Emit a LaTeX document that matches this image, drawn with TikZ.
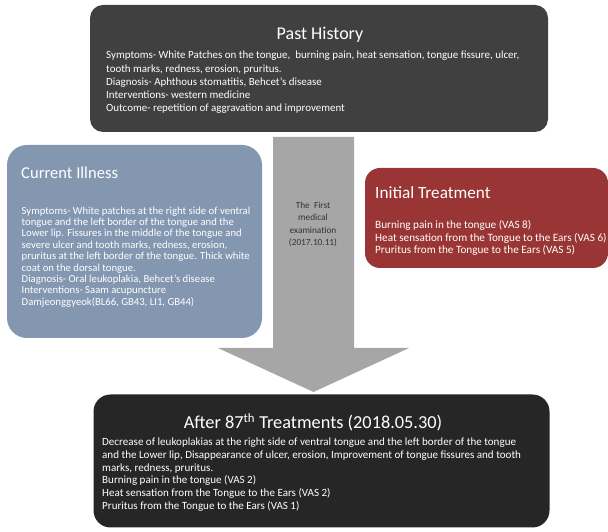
\documentclass[tikz,border=0pt]{standalone}
\usepackage{fontspec}
\setmainfont{Carlito}
\usetikzlibrary{positioning}
\definecolor{pastgray}{HTML}{404040}
\definecolor{illblue}{HTML}{8497B0}
\definecolor{treatred}{HTML}{993535}
\definecolor{afterblack}{HTML}{262626}
\definecolor{arrowgray}{HTML}{A6A6A6}

\begin{document}
\begin{tikzpicture}[
        x=1pt, y=1pt,
        panel/.style={rectangle, rounded corners=15pt, inner sep=0},
        heading/.style={text=white, inner sep=0, font=\fontsize{18}{21}\selectfont},
        bodytext/.style={text=white, inner sep=0, align=left, anchor=north west, font=\fontsize{10.95}{13.3}\selectfont}
    ]
        \useasboundingbox (0,0) rectangle (608,532);

        % 两侧及上下的框
        \node[panel, fill=pastgray, minimum width=458, minimum height=127, rounded corners=13pt] (past) at (319,463.5) {};
        \node[panel, fill=illblue, minimum width=255, minimum height=193, rounded corners=20pt] (current) at (134.5,290.5) {};
        \node[panel, fill=treatred, minimum width=243, minimum height=100] (initial) at (486.5,314) {};
        \node[panel, fill=afterblack, minimum width=456, minimum height=133, rounded corners=17pt] (after) at (321.5,71) {};

        % 中间的箭头
        \def\shaftW{40.5}
        \def\headW{95.5}
        \coordinate (arrtop) at (313.5,395);
        \coordinate (arrbase) at (313.5,184);
        \coordinate (arrtip) at (313.5,140);
        \fill[arrowgray] ([xshift=-\shaftW]arrtop) -- ([xshift=\shaftW]arrtop)
            -- ([xshift=\shaftW]arrbase) -- ([xshift=\headW]arrbase) -- (arrtip)
            -- ([xshift=-\headW]arrbase) -- ([xshift=-\shaftW]arrbase) -- cycle;
        \node[align=center, inner sep=0, text=black!80, font=\fontsize{9.3}{12.5}\selectfont] (firstexam) at (313,307.5)
            {The\ \ First\\medical\\examination\\(2017.10.11)};

        % Past History
        \node[heading] (pasttitle) at (320,497) {Past History};
        \node[bodytext] (pastbody) at (106,481) {Symptoms- White Patches on the tongue,\ \ burning pain, heat sensation, tongue fissure, ulcer,\\
            tooth marks, redness, erosion, pruritus.\\
            Diagnosis- Aphthous stomatitis, Behcet's disease\\
            Interventions- western medicine\\
            Outcome- repetition of aggravation and improvement};

        % Current Illness
        \node[heading, anchor=west, font=\fontsize{16.6}{20}\selectfont] (curtitle) at (21,359) {Current Illness};
        \node[bodytext, font=\fontsize{10.7}{11.4}\selectfont] (curbody) at (21.5,325.5) {Symptoms- White patches at the right side of ventral\\
            tongue and the left border of the tongue and the\\
            Lower lip. Fissures in the middle of the tongue and\\
            severe ulcer and tooth marks, redness, erosion,\\
            pruritus at the left border of the tongue. Thick white\\
            coat on the dorsal tongue.\\
            Diagnosis- Oral leukoplakia, Behcet's disease\\
            Interventions- Saam acupuncture\\
            Damjeonggyeok(BL66, GB43, LI1, GB44)};

        % Initial Treatment
        \node[heading, anchor=west, font=\fontsize{17.2}{20}\selectfont] (inittitle) at (375,339) {Initial Treatment};
        \node[bodytext, font=\fontsize{11.2}{12.7}\selectfont] (initbody) at (375,312) {Burning pain in the tongue (VAS 8)\\
            Heat sensation from the Tongue to the Ears (VAS 6)\\
            Pruritus from the Tongue to the Ears (VAS 5)};

        % After 87th Treatments
        \node[heading, font=\fontsize{18.3}{21}\selectfont] (aftertitle) at (313,110) {After 87\textsuperscript{th} Treatments (2018.05.30)};
        \node[bodytext, font=\fontsize{11.05}{12.7}\selectfont] (afterbody) at (102,94) {Decrease of leukoplakias at the right side of ventral tongue and the left border of the tongue\\
            and the Lower lip, Disappearance of ulcer, erosion, Improvement of tongue fissures and tooth\\
            marks, redness, pruritus.\\
            Burning pain in the tongue (VAS 2)\\
            Heat sensation from the Tongue to the Ears (VAS 2)\\
            Pruritus from the Tongue to the Ears (VAS 1)};

    \end{tikzpicture}
\end{document}
